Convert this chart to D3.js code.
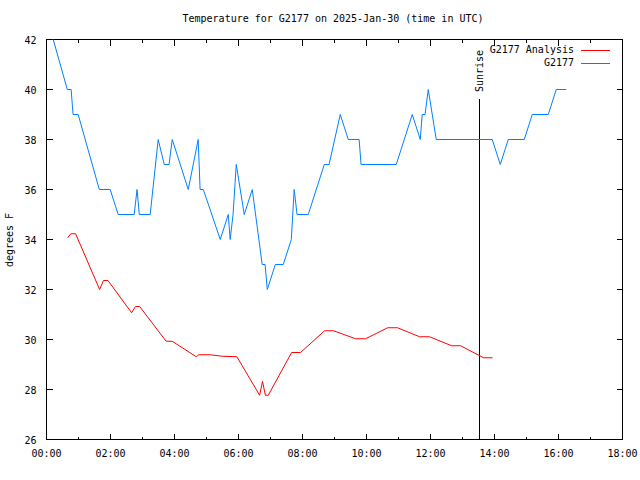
<!DOCTYPE html>
<html>
<head>
<meta charset="utf-8">
<script src="https://d3js.org/d3.v7.min.js"></script>
<style>
  body { margin: 0; background: #fff; }
  svg { display: block; }
  text { font-family: "DejaVu Sans Mono", monospace; font-size: 10px; fill: #000; }
</style>
</head>
<body>
<svg id="chart" width="640" height="480"></svg>
<script>
// station observations (hours UTC, degrees F)
var obsHours = [0.21, 0.65, 0.77, 0.83, 0.99, 1.65, 1.99, 2.24, 2.74, 2.83, 2.90, 3.24,
                3.49, 3.68, 3.83, 3.93, 4.43, 4.74, 4.80, 4.90, 5.43, 5.68, 5.74, 5.83,
                5.93, 6.18, 6.43, 6.74, 6.83, 6.90, 7.15, 7.40, 7.65, 7.74, 7.83, 8.18,
                8.68, 8.83, 9.18, 9.43, 9.77, 9.83, 10.93, 11.43, 11.68, 11.74, 11.83, 11.93,
                12.18, 13.93, 14.18, 14.43, 14.93, 15.18, 15.68, 15.93, 16.24];
var obsTemps = [42, 40, 40, 39, 39, 36, 36, 35, 35, 36, 35, 35,
                38, 37, 37, 38, 36, 38, 36, 36, 34, 35, 34, 35,
                37, 35, 36, 33, 33, 32, 33, 33, 34, 36, 35, 35,
                37, 37, 39, 38, 38, 37, 37, 39, 38, 39, 39, 40,
                38, 38, 37, 38, 38, 39, 39, 40, 40];

// analysis values
var anaHours = [0.66, 0.76, 0.91, 1.66, 1.78, 1.92, 2.66, 2.78, 2.91, 3.74, 3.93, 4.68,
                4.76, 5.12, 5.49, 5.95, 6.66, 6.75, 6.84, 6.93, 7.66, 7.94, 8.69, 8.97,
                9.66, 9.97, 10.66, 10.97, 11.66, 11.97, 12.66, 12.94, 13.66, 13.94];
var anaTemps = [34.07, 34.23, 34.23, 32.0, 32.36, 32.36, 31.07, 31.32, 31.32, 29.93, 29.93, 29.31,
                29.39, 29.39, 29.33, 29.31, 27.77, 28.32, 27.77, 27.77, 29.48, 29.48, 30.35, 30.35,
                30.03, 30.03, 30.47, 30.47, 30.11, 30.11, 29.75, 29.75, 29.27, 29.27];

var sunriseHour = 13.53;
var xTicks = [0, 2, 4, 6, 8, 10, 12, 14, 16, 18];
var xMinorTicks = [1, 3, 5, 7, 9, 11, 13, 15, 17];
var yTicks = [26, 28, 30, 32, 34, 36, 38, 40, 42];

var svg = d3.select("#chart");
var plotLeft = 46.5, plotRight = 622.5, plotTop = 39.5, plotBottom = 439.5;

var x = d3.scaleLinear().domain([0, 18]).range([plotLeft, plotRight]);
var y = d3.scaleLinear().domain([26, 42]).range([plotBottom, plotTop]);

function hhmm(h) { return (h < 10 ? "0" : "") + h + ":00"; }

// frame
svg.append("rect")
  .attr("x", plotLeft).attr("y", plotTop)
  .attr("width", plotRight - plotLeft).attr("height", plotBottom - plotTop)
  .attr("fill", "none").attr("stroke", "#000").attr("stroke-width", 1)
  .attr("shape-rendering", "crispEdges");

var ticks = svg.append("g").attr("stroke", "#000").attr("shape-rendering", "crispEdges");
xTicks.forEach(function (t) {
  ticks.append("line").attr("x1", x(t)).attr("x2", x(t)).attr("y1", plotBottom).attr("y2", plotBottom - 6);
  ticks.append("line").attr("x1", x(t)).attr("x2", x(t)).attr("y1", plotTop).attr("y2", plotTop + 6);
  svg.append("text").attr("x", x(t)).attr("y", plotBottom + 14)
    .attr("text-anchor", "middle").attr("dominant-baseline", "middle").text(hhmm(t));
});
xMinorTicks.forEach(function (t) {
  ticks.append("line").attr("x1", x(t)).attr("x2", x(t)).attr("y1", plotBottom).attr("y2", plotBottom - 3);
  ticks.append("line").attr("x1", x(t)).attr("x2", x(t)).attr("y1", plotTop).attr("y2", plotTop + 3);
});
yTicks.forEach(function (t) {
  ticks.append("line").attr("x1", plotLeft).attr("x2", plotLeft + 6).attr("y1", y(t)).attr("y2", y(t));
  ticks.append("line").attr("x1", plotRight).attr("x2", plotRight - 6).attr("y1", y(t)).attr("y2", y(t));
  svg.append("text").attr("x", plotLeft - 10).attr("y", y(t) + 1)
    .attr("text-anchor", "end").attr("dominant-baseline", "middle").text(t);
});

// titles
svg.append("text").attr("x", 333).attr("y", 19)
  .attr("text-anchor", "middle").attr("dominant-baseline", "middle")
  .text("Temperature for G2177 on 2025-Jan-30 (time in UTC)");
svg.append("text")
  .attr("transform", "translate(10,240) rotate(-90)")
  .attr("text-anchor", "middle").attr("dominant-baseline", "middle")
  .text("degrees F");

// sunrise marker
svg.append("line")
  .attr("x1", x(sunriseHour)).attr("x2", x(sunriseHour))
  .attr("y1", 99).attr("y2", plotBottom)
  .attr("stroke", "#000").attr("shape-rendering", "crispEdges");
svg.append("text")
  .attr("transform", "translate(" + (x(sunriseHour) + 1) + ",92) rotate(-90)")
  .attr("text-anchor", "start").attr("dominant-baseline", "middle")
  .text("Sunrise");

// series
var line = d3.line().x(function (d) { return x(d[0]); }).y(function (d) { return y(d[1]); });
var anaData = anaHours.map(function (h, i) { return [h, anaTemps[i]]; });
var obsData = obsHours.map(function (h, i) { return [h, obsTemps[i]]; });

svg.append("path").datum(anaData).attr("d", line)
  .attr("fill", "none").attr("stroke", "#ff0000").attr("stroke-width", 1);
svg.append("path").datum(obsData).attr("d", line)
  .attr("fill", "none").attr("stroke", "#0080ff").attr("stroke-width", 1);

// legend
var legend = [["G2177 Analysis", "#ff0000"], ["G2177", "#0080ff"]];
legend.forEach(function (l, i) {
  var ly = 50 + i * 13;
  svg.append("text").attr("x", 574).attr("y", ly)
    .attr("text-anchor", "end").attr("dominant-baseline", "middle").text(l[0]);
  svg.append("line").attr("x1", 581).attr("x2", 610).attr("y1", ly + 0.5).attr("y2", ly + 0.5)
    .attr("stroke", l[1]).attr("shape-rendering", "crispEdges");
});
</script>
</body>
</html>
